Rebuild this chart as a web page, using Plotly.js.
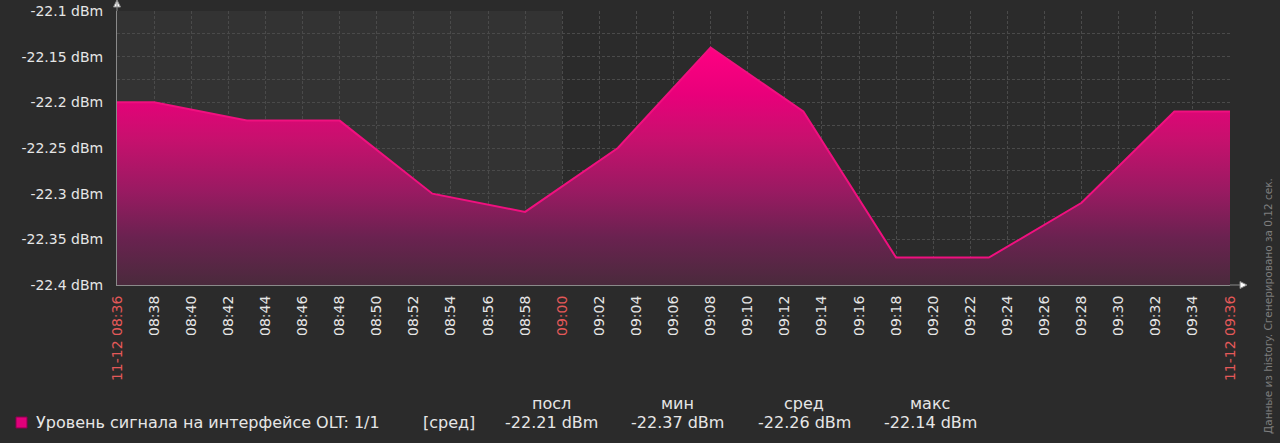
<!DOCTYPE html>
<html>
<head>
<meta charset="utf-8">
<script src="https://cdn.plot.ly/plotly-3.0.1.min.js"></script>
<style>
html,body{margin:0;padding:0;background:#2b2b2b;}
#chart{width:1280px;height:443px;}
</style>
</head>
<body>
<div id="chart"></div>
<script>
// ---- data ----
var day = '2024-11-12 ';
var times = ['08:36','08:38','08:43','08:48','08:53','08:58','09:03','09:08','09:13','09:18','09:23','09:28','09:33','09:36'];
var values = [-22.20,-22.20,-22.22,-22.22,-22.30,-22.32,-22.25,-22.14,-22.21,-22.37,-22.37,-22.31,-22.21,-22.21];
var seriesName = 'Уровень сигнала на интерфейсе OLT: 1/1';
var tickTimes = ['08:36','08:38','08:40','08:42','08:44','08:46','08:48','08:50','08:52','08:54','08:56','08:58','09:00','09:02','09:04','09:06','09:08','09:10','09:12','09:14','09:16','09:18','09:20','09:22','09:24','09:26','09:28','09:30','09:32','09:34','09:36'];
var tickLabels = ['11-12 08:36','08:38','08:40','08:42','08:44','08:46','08:48','08:50','08:52','08:54','08:56','08:58','09:00','09:02','09:04','09:06','09:08','09:10','09:12','09:14','09:16','09:18','09:20','09:22','09:24','09:26','09:28','09:30','09:32','09:34','11-12 09:36'];
var highlighted = ['11-12 08:36','09:00','11-12 09:36'];
var yTickVals = [-22.4,-22.375,-22.35,-22.325,-22.3,-22.275,-22.25,-22.225,-22.2,-22.175,-22.15,-22.125,-22.1];
var yTickText = ['-22.4 dBm','','-22.35 dBm','','-22.3 dBm','','-22.25 dBm','','-22.2 dBm','','-22.15 dBm','','-22.1 dBm'];
var yRange = [-22.4, -22.1];
var nonWorkStart = '08:36', nonWorkEnd = '09:00';
var footerText = 'Данные из history. Сгенерировано за 0.12 сек.';

// ---- derived ----
var xs = times.map(function(t){return day + t;});
var statVals = values.slice(1, values.length - 1);
var last = statVals[statVals.length - 1];
var mn = Math.min.apply(null, statVals);
var mx = Math.max.apply(null, statVals);
var avg = statVals.reduce(function(a,b){return a+b;},0) / statVals.length;
function fmt(v){ return v.toFixed(2) + ' dBm'; }

var TEXT = '#e6e6e6', RED = '#E45959', GRID = '#4a4a4a';
var L = 117, R = 1230, T = 11, B = 285;
function px(x){ return (x - L) / (R - L); }
function py(y){ return (B - y) / (B - T); }

var baseline = {
  x: xs, y: xs.map(function(){return yRange[0];}),
  mode: 'lines', line: {width: 0, color: 'rgba(0,0,0,0)'},
  hoverinfo: 'skip', showlegend: false
};
var main = {
  x: xs, y: values, name: seriesName,
  mode: 'lines', line: {color: '#F0107F', width: 2},
  fill: 'tonexty',
  fillgradient: {type: 'vertical', start: -22.4, stop: -22.14,
    colorscale: [[0,'#4a2a3c'],[0.2,'#6a2250'],[0.4,'#9a1a62'],[0.62,'#c8106e'],[0.8,'#e8007a'],[1,'#ff0082']]},
  showlegend: false
};

var ticktext = tickLabels.map(function(t){
  return highlighted.indexOf(t) >= 0 ? '<span style="color:' + RED + '">' + t + '</span>' : t;
});

var LF = 16;
var stats = [['посл', last, 551], ['мин', mn, 677], ['сред', avg, 804], ['макс', mx, 930]];
var annotations = [
  {xref:'paper', yref:'paper', x:px(34), y:py(422), xanchor:'left', yanchor:'middle', text: seriesName, showarrow:false, font:{size:LF, color:TEXT}},
  {xref:'paper', yref:'paper', x:px(421), y:py(422), xanchor:'left', yanchor:'middle', text:'[сред]', showarrow:false, font:{size:LF, color:TEXT}},
  {xref:'paper', yref:'paper', x:px(1268), y:py(306), xanchor:'center', yanchor:'middle', text: footerText, textangle:-90, showarrow:false, font:{size:10.5, color:'#7e7e7e'}}
];
stats.forEach(function(s){
  annotations.push({xref:'paper', yref:'paper', x:px(s[2]), y:py(403), xanchor:'center', yanchor:'middle', text:s[0], showarrow:false, font:{size:LF, color:TEXT}});
  annotations.push({xref:'paper', yref:'paper', x:px(s[2]), y:py(422), xanchor:'center', yanchor:'middle', text:fmt(s[1]), showarrow:false, font:{size:LF, color:TEXT}});
});

var shapes = [
  {type:'rect', xref:'x', yref:'paper', x0: day + nonWorkStart, x1: day + nonWorkEnd, y0:0, y1:1, fillcolor:'#333333', line:{width:0}, layer:'below'},
  {type:'rect', xref:'paper', yref:'paper', x0:px(16), x1:px(27), y0:py(428), y1:py(417), fillcolor:'#E0007A', line:{color:'#8a0050', width:1}},
  {type:'path', xref:'paper', yref:'paper', xsizemode:'pixel', ysizemode:'pixel', xanchor:0, yanchor:1,
   path:'M 0 0 L 0 10 M -3.5 4 L 3.5 4 L 0 11 Z', fillcolor:'#ffffff', line:{width:1, color:'#8a8a8a'}},
  {type:'path', xref:'paper', yref:'paper', xsizemode:'pixel', ysizemode:'pixel', xanchor:1, yanchor:0,
   path:'M 0 0 L 10 0 M 10 3.5 L 10 -3.5 L 17 0 Z', fillcolor:'#ffffff', line:{width:1, color:'#8a8a8a'}}
];

var layout = {
  width: 1280, height: 443,
  margin: {l: L, r: 1280 - R, t: T, b: 443 - B, pad: 0},
  paper_bgcolor: '#2b2b2b', plot_bgcolor: '#2b2b2b',
  font: {family: 'DejaVu Sans, sans-serif', color: TEXT},
  showlegend: false,
  xaxis: {
    type: 'date', range: [day + tickTimes[0], day + tickTimes[tickTimes.length-1]],
    tickmode: 'array', tickvals: tickTimes.map(function(t){return day + t;}), ticktext: ticktext,
    tickangle: -90, tickfont: {size: 14, color: TEXT},
    showgrid: true, gridcolor: GRID, griddash: '3px,2px', gridwidth: 1,
    showline: true, linecolor: '#8a8a8a', linewidth: 1,
    ticks: '', ticklabelstandoff: 4, zeroline: false, fixedrange: true
  },
  yaxis: {
    range: yRange, tickmode: 'array', tickvals: yTickVals, ticktext: yTickText,
    tickfont: {size: 14, color: TEXT},
    showgrid: true, gridcolor: GRID, griddash: '3px,2px', gridwidth: 1,
    showline: true, linecolor: '#8a8a8a', linewidth: 1,
    ticks: '', ticklabelstandoff: 10, zeroline: false, fixedrange: true
  },
  shapes: shapes,
  annotations: annotations
};

Plotly.newPlot('chart', [baseline, main], layout, {displayModeBar: false, staticPlot: true});
</script>
</body>
</html>
